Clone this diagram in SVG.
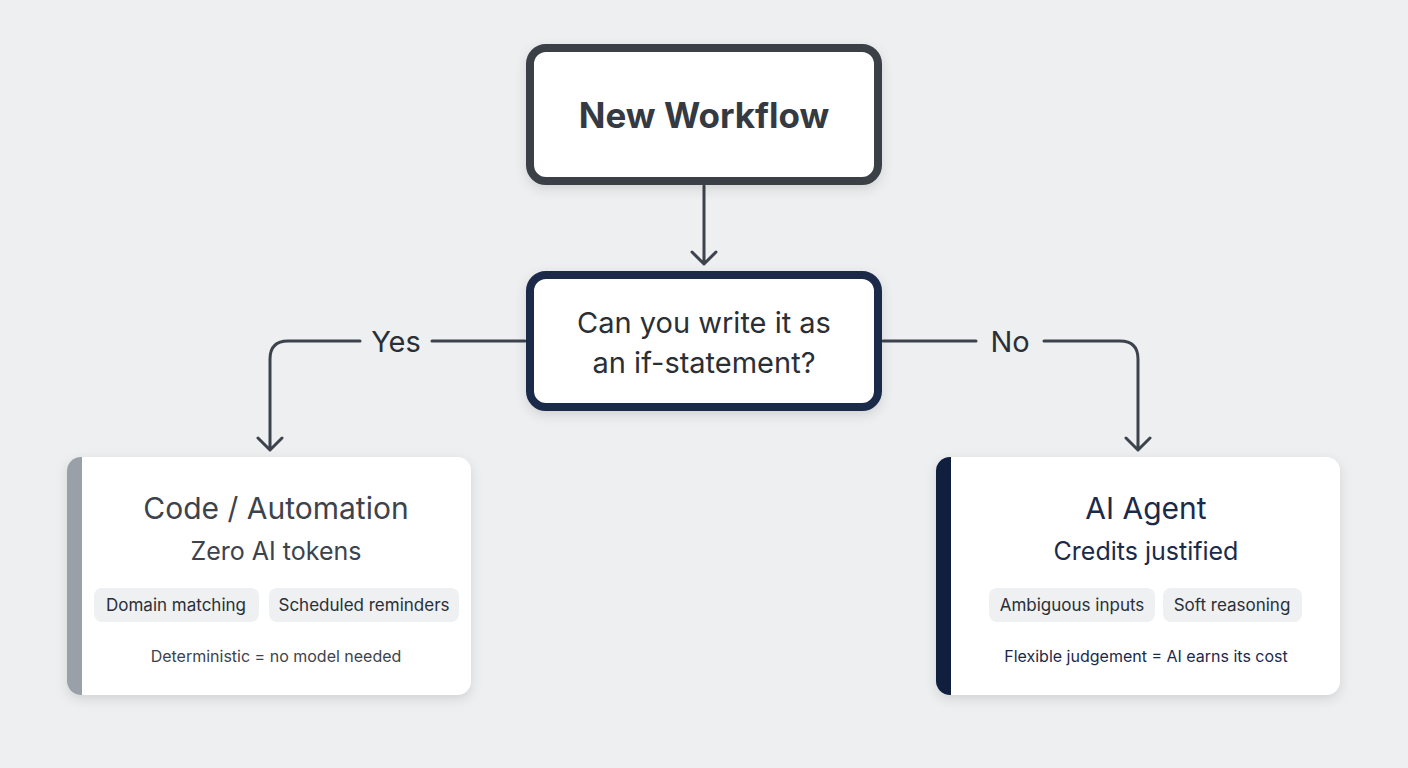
<svg xmlns="http://www.w3.org/2000/svg" width="1408" height="768" viewBox="0 0 1408 768">
<defs>
<style>
text{font-family:Inter,"Noto Sans",sans-serif;text-anchor:middle}
.ln{fill:none;stroke:#3d434c;stroke-width:3;stroke-linecap:round;stroke-linejoin:round}
.card{fill:#fff}
.pill{fill:#eef0f2}
.pt{font-size:17px;fill:#2a2f36}
</style>
<filter id="sh" x="-10%" y="-10%" width="120%" height="130%"><feDropShadow dx="0" dy="4" stdDeviation="6" flood-color="#000" flood-opacity="0.12"/></filter>
<clipPath id="cl"><rect x="67" y="457" width="404" height="238" rx="14"/></clipPath>
<clipPath id="cr"><rect x="936" y="457" width="404" height="238" rx="14"/></clipPath>
</defs>
<rect width="1408" height="768" fill="#eeeff1"/>
<g id="connectors">
<path class="ln" d="M704 186 V264 M692 252 L704 264 L716 252"/>
<path class="ln" d="M525 341 H432 M360 341 H288 Q270 341 270 359 V450 M258 438 L270 450 L282 438"/>
<path class="ln" d="M883 341 H976 M1044 341 H1120 Q1138 341 1138 359 V450 M1126 438 L1138 450 L1150 438"/>
<text x="396" y="352" font-size="29" fill="#2a2f36">Yes</text>
<text x="1010" y="352" font-size="29" fill="#2a2f36">No</text>
</g>
<g id="start">
<rect x="530" y="48" width="348" height="133" rx="16" fill="#fff" stroke="#3a3f47" stroke-width="8" filter="url(#sh)"/>
<text x="704" y="128" font-size="35" font-weight="700" fill="#353a42">New Workflow</text>
</g>
<g id="decision">
<rect x="530" y="275" width="348" height="132" rx="16" fill="#fff" stroke="#1b2a4a" stroke-width="8" filter="url(#sh)"/>
<text x="704" y="333" font-size="29" fill="#2a2f36">Can you write it as</text>
<text x="704" y="373" font-size="29" fill="#2a2f36">an if-statement?</text>
</g>
<g id="code">
<rect class="card" x="67" y="457" width="404" height="238" rx="14" filter="url(#sh)"/>
<rect x="67" y="457" width="15" height="238" fill="#9aa0a8" clip-path="url(#cl)"/>
<text x="276" y="519" font-size="30" fill="#3d434c">Code / Automation</text>
<text x="276" y="560" font-size="25" fill="#3d434c">Zero AI tokens</text>
<rect class="pill" x="94" y="588" width="165" height="34" rx="8"/>
<text class="pt" x="176" y="611">Domain matching</text>
<rect class="pill" x="269" y="588" width="190" height="34" rx="8"/>
<text class="pt" x="364" y="611">Scheduled reminders</text>
<text x="276" y="662" font-size="16" fill="#3d434c">Deterministic = no model needed</text>
</g>
<g id="agent">
<rect class="card" x="936" y="457" width="404" height="238" rx="14" filter="url(#sh)"/>
<rect x="936" y="457" width="15" height="238" fill="#0f1f3d" clip-path="url(#cr)"/>
<text x="1146" y="519" font-size="30" fill="#1b2a4a">AI Agent</text>
<text x="1146" y="560" font-size="25" fill="#1b2a4a">Credits justified</text>
<rect class="pill" x="989" y="588" width="166" height="34" rx="8"/>
<text class="pt" x="1072" y="611">Ambiguous inputs</text>
<rect class="pill" x="1163" y="588" width="139" height="34" rx="8"/>
<text class="pt" x="1232" y="611">Soft reasoning</text>
<text x="1146" y="662" font-size="16" fill="#1b2a4a">Flexible judgement = AI earns its cost</text>
</g>
</svg>
